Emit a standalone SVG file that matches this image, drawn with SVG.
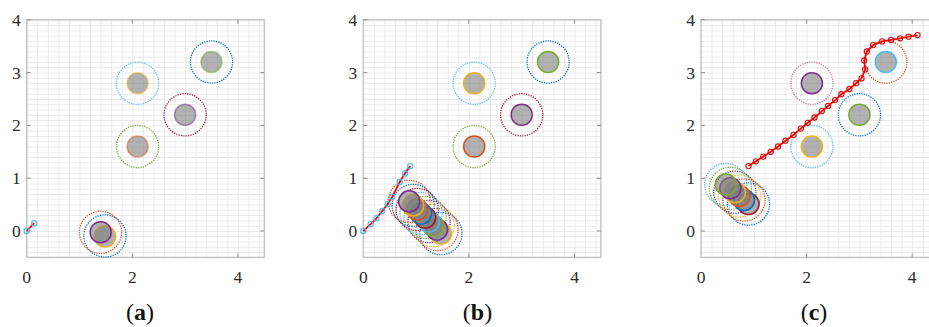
<svg xmlns="http://www.w3.org/2000/svg" width="929" height="327" viewBox="0 0 929 327">
<style>
.bg{fill:#ffffff}
.grid{fill:url(#gridp)}
.frame{fill:none;stroke:#c4c4c4;stroke-width:1.4}
.tick{stroke:#8c8c8c;stroke-width:1}
.tl{font-family:"Liberation Serif","Times New Roman",serif;font-size:17.5px;fill:#2b2b2b}
.pl{font-family:"Liberation Serif","Times New Roman",serif;font-size:24px;fill:#111}
.obs{fill:#7f7f7f;fill-opacity:0.6;stroke-width:1.5}
.safe{fill:none;stroke-width:1.3;stroke-dasharray:1.2 1.2}
.faint{stroke-opacity:0.5}
.path{fill:none;stroke:#ff0000;stroke-width:1.8;stroke-linejoin:round}
.mk{fill:none;stroke:#4DBEEE;stroke-width:1.2}
.mkr{fill:none;stroke:#d01010;stroke-width:1.1}
.cB{stroke:#0072BD}.cO{stroke:#D95319}.cY{stroke:#EDB120}.cP{stroke:#7E2F8E}
.cG{stroke:#77AC30}.cL{stroke:#4DBEEE}.cR{stroke:#A2142F}
</style>
<defs>
<pattern id="gridp" patternUnits="userSpaceOnUse" width="10.56" height="5.28">
<path d="M0 0V5.28M0 0H10.56" stroke="#e4e4e4" stroke-width="1.4" fill="none"/>
</pattern>
</defs>
<rect class="bg" x="0" y="0" width="929" height="327"/>

<!-- ===== Panel (a) ===== -->
<g id="panel-a">
<g id="axes-a">
<g transform="translate(26.7,231)"><rect class="grid" x="0" y="-211.2" width="237.6" height="237.6"/></g>
<rect class="frame" x="26.7" y="19.8" width="237.6" height="237.6"/>
<path class="tick" d="M26.7 231h4M26.7 178.2h4M26.7 125.4h4M26.7 72.6h4M26.7 19.8h4M264.3 231h-4M264.3 178.2h-4M264.3 125.4h-4M264.3 72.6h-4M132.3 257.4v-4M237.9 257.4v-4M132.3 19.8v4M237.9 19.8v4"/>
<text class="tl" x="20.7" y="237" text-anchor="end">0</text>
<text class="tl" x="20.7" y="184.2" text-anchor="end">1</text>
<text class="tl" x="20.7" y="131.4" text-anchor="end">2</text>
<text class="tl" x="20.7" y="78.6" text-anchor="end">3</text>
<text class="tl" x="20.7" y="25.8" text-anchor="end">4</text>
<text class="tl" x="26.7" y="283" text-anchor="middle">0</text>
<text class="tl" x="132.3" y="283" text-anchor="middle">2</text>
<text class="tl" x="237.9" y="283" text-anchor="middle">4</text>
</g>
<g id="obstacles-a">
<circle class="safe cL" cx="137.6" cy="83.2" r="21.1"/><circle class="obs cY faint" cx="137.6" cy="83.2" r="10.56"/>
<circle class="safe cB" cx="211.5" cy="62" r="21.1"/><circle class="obs cG faint" cx="211.5" cy="62" r="10.56"/>
<circle class="safe cR" cx="185.1" cy="114.8" r="21.1"/><circle class="obs cP faint" cx="185.1" cy="114.8" r="10.56"/>
<circle class="safe cG" cx="137.6" cy="146.5" r="21.1"/><circle class="obs cO faint" cx="137.6" cy="146.5" r="10.56"/>
</g>
<g id="moving-a">
<circle class="safe cB" cx="105" cy="236" r="21.1"/>
<circle class="safe cO" cx="100.5" cy="232.3" r="21.1"/>
<circle class="obs cY" cx="105" cy="236.5" r="10.56"/>
<circle class="obs cP" cx="100.7" cy="232.3" r="10.56"/>
</g>
<g id="robot-a">
<path class="path" d="M26.7 231L34.2 223.2"/>
<circle class="mk" cx="26.7" cy="231" r="2.6"/><circle class="mk" cx="34.2" cy="223.2" r="2.6"/>
</g>
<text class="pl" x="140" y="320" text-anchor="middle">(<tspan font-weight="bold">a</tspan>)</text>
</g>

<!-- ===== Panel (b) ===== -->
<g id="panel-b">
<g id="axes-b">
<g transform="translate(363.3,231)"><rect class="grid" x="0" y="-211.2" width="237.6" height="237.6"/></g>
<rect class="frame" x="363.3" y="19.8" width="237.6" height="237.6"/>
<path class="tick" d="M363.3 231h4M363.3 178.2h4M363.3 125.4h4M363.3 72.6h4M363.3 19.8h4M600.9 231h-4M600.9 178.2h-4M600.9 125.4h-4M600.9 72.6h-4M468.9 257.4v-4M574.5 257.4v-4M468.9 19.8v4M574.5 19.8v4"/>
<text class="tl" x="357.3" y="237" text-anchor="end">0</text>
<text class="tl" x="357.3" y="184.2" text-anchor="end">1</text>
<text class="tl" x="357.3" y="131.4" text-anchor="end">2</text>
<text class="tl" x="357.3" y="78.6" text-anchor="end">3</text>
<text class="tl" x="357.3" y="25.8" text-anchor="end">4</text>
<text class="tl" x="363.3" y="283" text-anchor="middle">0</text>
<text class="tl" x="468.9" y="283" text-anchor="middle">2</text>
<text class="tl" x="574.5" y="283" text-anchor="middle">4</text>
</g>
<g id="obstacles-b">
<circle class="safe cL" cx="474.2" cy="83.2" r="21.1"/><circle class="obs cY" cx="474.2" cy="83.2" r="10.56"/>
<circle class="safe cB" cx="548.1" cy="62" r="21.1"/><circle class="obs cG" cx="548.1" cy="62" r="10.56"/>
<circle class="safe cR" cx="521.7" cy="114.8" r="21.1"/><circle class="obs cP" cx="521.7" cy="114.8" r="10.56"/>
<circle class="safe cG" cx="474.2" cy="146.5" r="21.1"/><circle class="obs cO" cx="474.2" cy="146.5" r="10.56"/>
</g>
<g id="moving-b">
<circle class="safe cB" cx="440.9" cy="233.6" r="21.1"/>
<circle class="safe cO" cx="437.0" cy="229.6" r="21.1"/>
<circle class="safe cY" cx="433.0" cy="225.6" r="21.1"/>
<circle class="safe cP" cx="429.0" cy="221.6" r="21.1"/>
<circle class="safe cG" cx="425.1" cy="217.5" r="21.1"/>
<circle class="safe cL" cx="421.1" cy="213.5" r="21.1"/>
<circle class="safe cR" cx="417.2" cy="209.5" r="21.1"/>
<circle class="safe cB" cx="413.2" cy="205.4" r="21.1"/>
<circle class="safe cO" cx="409.2" cy="201.4" r="21.1"/>
<circle class="obs cY" cx="440.9" cy="233.6" r="10.56"/>
<circle class="obs cP" cx="437.0" cy="229.6" r="10.56"/>
<circle class="obs cG" cx="433.0" cy="225.6" r="10.56"/>
<circle class="obs cL" cx="429.0" cy="221.6" r="10.56"/>
<circle class="obs cR" cx="425.1" cy="217.5" r="10.56"/>
<circle class="obs cB" cx="421.1" cy="213.5" r="10.56"/>
<circle class="obs cO" cx="417.2" cy="209.5" r="10.56"/>
<circle class="obs cY" cx="413.2" cy="205.4" r="10.56"/>
<circle class="obs cP" cx="409.2" cy="201.4" r="10.56"/>
</g>
<g id="robot-b">
<path class="path" d="M363.3 231L370.7 224.1L376.5 218.3L382.3 210.9L387.6 204.1L392.3 196.7L396 189.3L399.7 181.9L405 173.4L410.3 166.1"/>
<circle class="mk" cx="363.3" cy="231" r="2.6"/>
<circle class="mk" cx="370.7" cy="224.1" r="2.6"/>
<circle class="mk" cx="376.5" cy="218.3" r="2.6"/>
<circle class="mk" cx="382.3" cy="210.9" r="2.6"/>
<circle class="mk" cx="387.6" cy="204.1" r="2.6"/>
<circle class="mk" cx="392.3" cy="196.7" r="2.6"/>
<circle class="mk" cx="399.7" cy="181.9" r="2.6"/>
<circle class="mk" cx="405" cy="173.4" r="2.6"/>
<circle class="mk" cx="410.3" cy="166.1" r="2.6"/>
</g>
<text class="pl" x="477.5" y="320" text-anchor="middle">(<tspan font-weight="bold">b</tspan>)</text>
</g>

<!-- ===== Panel (c) ===== -->
<g id="panel-c">
<g id="axes-c">
<g transform="translate(701,231)"><rect class="grid" x="0" y="-211.2" width="237.6" height="237.6"/></g>
<rect class="frame" x="701" y="19.8" width="237.6" height="237.6"/>
<path class="tick" d="M701 231h4M701 178.2h4M701 125.4h4M701 72.6h4M701 19.8h4M806.6 257.4v-4M912.2 257.4v-4M806.6 19.8v4M912.2 19.8v4"/>
<text class="tl" x="695" y="237" text-anchor="end">0</text>
<text class="tl" x="695" y="184.2" text-anchor="end">1</text>
<text class="tl" x="695" y="131.4" text-anchor="end">2</text>
<text class="tl" x="695" y="78.6" text-anchor="end">3</text>
<text class="tl" x="695" y="25.8" text-anchor="end">4</text>
<text class="tl" x="701" y="283" text-anchor="middle">0</text>
<text class="tl" x="806.6" y="283" text-anchor="middle">2</text>
<text class="tl" x="912.2" y="283" text-anchor="middle">4</text>
</g>
<g id="obstacles-c">
<circle class="safe cR faint" cx="811.9" cy="83.2" r="21.1"/><circle class="obs cP" cx="811.9" cy="83.2" r="10.56"/>
<circle class="safe cO" cx="885.8" cy="62" r="21.1"/><circle class="obs cL" cx="885.8" cy="62" r="10.56"/>
<circle class="safe cB" cx="859.4" cy="114.8" r="21.1"/><circle class="obs cG" cx="859.4" cy="114.8" r="10.56"/>
<circle class="safe cL" cx="811.9" cy="146.5" r="21.1"/><circle class="obs cY" cx="811.9" cy="146.5" r="10.56"/>
</g>
<g id="moving-c">
<circle class="safe cB" cx="748.5" cy="204" r="21.1"/>
<circle class="safe cO" cx="744.0" cy="200" r="21.1"/>
<circle class="safe cY" cx="739.4" cy="196" r="21.1"/>
<circle class="safe cP" cx="734.9" cy="192.2" r="21.1"/>
<circle class="safe cG" cx="730.4" cy="188.3" r="21.1"/>
<circle class="safe cL" cx="725.8" cy="184.5" r="21.1"/>
<circle class="obs cR" cx="748.5" cy="204" r="10.56"/>
<circle class="obs cB" cx="744.0" cy="200" r="10.56"/>
<circle class="obs cO" cx="739.4" cy="196" r="10.56"/>
<circle class="obs cY" cx="734.9" cy="192.2" r="10.56"/>
<circle class="obs cP" cx="730.4" cy="188.3" r="10.56"/>
<circle class="obs cG" cx="725.8" cy="184.5" r="10.56"/>
</g>
<g id="robot-c">
<path class="path" d="M748.5 166.1L755.9 161.3L763.3 156.6L770.7 151.8L778.1 146.5L785.5 140.7L793.4 134.9L800.8 128.6L807.7 122.8L814.5 117.5L821.9 111.1L828.2 105.9L835.1 100.1L841.4 94.2L849.4 89L856.2 83.2L861.5 78.4L865.2 69.4L864.2 60.5L866.8 51.5L873.1 45.1L882.1 41.4L891.1 39.9L900.1 38.3L908.5 36.7L917.5 35.1"/>
<g class="mkr">
<circle cx="748.5" cy="166.1" r="2.6"/><circle cx="755.9" cy="161.3" r="2.6"/><circle cx="763.3" cy="156.6" r="2.6"/><circle cx="770.7" cy="151.8" r="2.6"/><circle cx="778.1" cy="146.5" r="2.6"/><circle cx="785.5" cy="140.7" r="2.6"/><circle cx="793.4" cy="134.9" r="2.6"/><circle cx="800.8" cy="128.6" r="2.6"/><circle cx="807.7" cy="122.8" r="2.6"/><circle cx="814.5" cy="117.5" r="2.6"/><circle cx="821.9" cy="111.1" r="2.6"/><circle cx="828.2" cy="105.9" r="2.6"/><circle cx="835.1" cy="100.1" r="2.6"/><circle cx="841.4" cy="94.2" r="2.6"/><circle cx="849.4" cy="89" r="2.6"/><circle cx="856.2" cy="83.2" r="2.6"/><circle cx="861.5" cy="78.4" r="2.6"/><circle cx="865.2" cy="69.4" r="2.6"/><circle cx="864.2" cy="60.5" r="2.6"/><circle cx="866.8" cy="51.5" r="2.6"/><circle cx="873.1" cy="45.1" r="2.6"/><circle cx="882.1" cy="41.4" r="2.6"/><circle cx="891.1" cy="39.9" r="2.6"/><circle cx="900.1" cy="38.3" r="2.6"/><circle cx="908.5" cy="36.7" r="2.6"/><circle cx="917.5" cy="35.1" r="2.6"/>
</g>
</g>
<text class="pl" x="814" y="320" text-anchor="middle">(<tspan font-weight="bold">c</tspan>)</text>
</g>
</svg>
